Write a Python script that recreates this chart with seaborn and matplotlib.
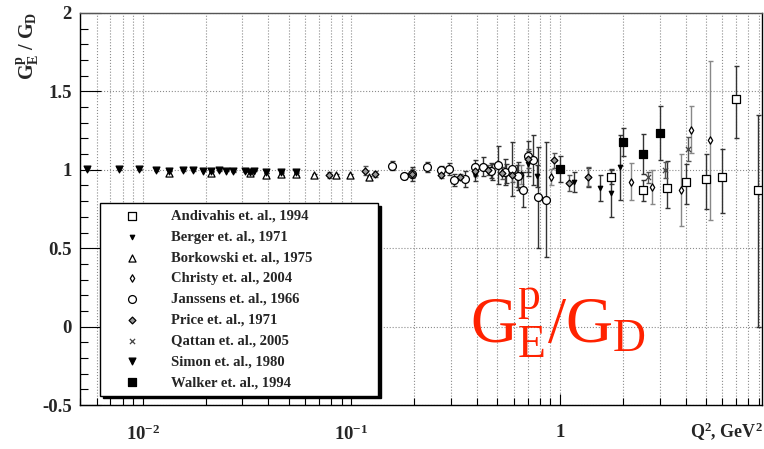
import numpy as np
import pandas as pd
import matplotlib
matplotlib.use("Agg")
import matplotlib.pyplot as plt
from matplotlib.ticker import LogLocator, MultipleLocator, NullFormatter
import seaborn as sns

# Data: Q^2 (GeV^2), GEp/GD and errors
q2_andivahis = [1.75, 2.5, 3.25, 4.0, 5.0, 6.0, 7.0, 8.85]
ge_andivahis = [0.957, 0.868, 0.887, 0.92, 0.943, 0.953, 1.45, 0.868]
errlo_andivahis = [0.05, 0.07, 0.13, 0.14, 0.19, 0.23, 0.25, 0.87]
errhi_andivahis = [0.05, 0.07, 0.17, 0.12, 0.16, 0.18, 0.21, 0.48]

q2_berger = [0.39, 0.47, 0.55, 0.62, 0.70, 0.78, 1.17, 1.36, 1.56, 1.76, 1.94]
ge_berger = [0.97, 0.985, 0.975, 0.96, 1.04, 0.96, 0.92, 0.95, 0.887, 0.85, 1.015]
err_berger = [0.04, 0.05, 0.06, 0.07, 0.08, 0.07, 0.064, 0.06, 0.083, 0.15, 0.21]

q2_borkowski = [0.0134, 0.0213, 0.0327, 0.0391, 0.0461, 0.0544, 0.0659, 0.0841, 0.0989, 0.122]
ge_borkowski = [0.98, 0.98, 0.98, 0.97, 0.975, 0.975, 0.965, 0.965, 0.965, 0.952]
err_borkowski = [0.01, 0.01, 0.01, 0.01, 0.01, 0.01, 0.01, 0.01, 0.01, 0.01]

q2_christy = [0.65, 0.91, 2.2, 2.77, 3.8, 4.24, 5.25]
ge_christy = [0.97, 0.953, 0.925, 0.89, 0.873, 1.255, 1.187]
err_christy = [0.06, 0.053, 0.12, 0.11, 0.23, 0.15, 0.51]

q2_janssens = [0.156, 0.179, 0.195, 0.231, 0.270, 0.294, 0.311, 0.350, 0.391, 0.428,
               0.466, 0.505, 0.545, 0.586, 0.627, 0.662, 0.705, 0.745, 0.782, 0.857]
ge_janssens = [1.027, 0.96, 0.975, 1.017, 0.996, 1.004, 0.936, 0.94, 1.015, 1.02,
               0.995, 1.03, 0.985, 1.005, 0.96, 0.873, 1.085, 1.06, 0.824, 0.81]
err_janssens = [0.03, 0.02, 0.045, 0.03, 0.03, 0.04, 0.04, 0.05, 0.05, 0.06,
                0.05, 0.12, 0.085, 0.17, 0.09, 0.11, 0.1, 0.16, 0.32, 0.365]

q2_price = [0.0778, 0.116, 0.130, 0.195, 0.27, 0.331, 0.391, 0.453, 0.525, 0.586, 0.70, 0.94, 1.105, 1.36]
ge_price = [0.968, 0.994, 0.973, 0.975, 0.968, 0.953, 0.99, 1.0, 0.98, 0.97, 1.07, 1.06, 0.915, 0.957]
err_price = [0.02, 0.03, 0.02, 0.03, 0.02, 0.02, 0.03, 0.03, 0.04, 0.05, 0.06, 0.05, 0.05, 0.06]

q2_qattan = [2.64, 3.2, 4.1]
ge_qattan = [0.953, 1.0, 1.13]
err_qattan = [0.035, 0.05, 0.077]

q2_simon = [0.0054, 0.0077, 0.0096, 0.0116, 0.0134, 0.0156, 0.0174, 0.0194, 0.0213,
            0.0231, 0.0251, 0.027, 0.031, 0.0327, 0.0343, 0.0391, 0.0461, 0.0544]
ge_simon = [1.005, 1.005, 1.003, 1.0, 0.995, 0.998, 0.997, 0.995, 0.99,
            0.997, 0.995, 0.99, 0.99, 0.988, 0.995, 0.985, 0.985, 0.985]
err_simon = [0.005] * len(q2_simon)

q2_walker = [1.0, 2.0, 2.5, 3.0]
ge_walker = [1.004, 1.176, 1.10, 1.234]
err_walker = [0.083, 0.09, 0.127, 0.17]

# label, x, y, yerr, marker, size, face, edge, bar colour
datasets = [
    ("Andivahis et. al., 1994", q2_andivahis, ge_andivahis, [errlo_andivahis, errhi_andivahis], "s", 30, "white", "black", "#333333"),
    ("Berger et. al., 1971", q2_berger, ge_berger, err_berger, "v", 10, "black", "black", "#333333"),
    ("Borkowski et. al., 1975", q2_borkowski, ge_borkowski, err_borkowski, "^", 26, "white", "black", "#333333"),
    ("Christy et. al., 2004", q2_christy, ge_christy, err_christy, "d", 14, "white", "black", "#888888"),
    ("Janssens et. al., 1966", q2_janssens, ge_janssens, err_janssens, "o", 32, "white", "black", "#333333"),
    ("Price et. al., 1971", q2_price, ge_price, err_price, "D", 12, "#999999", "black", "#555555"),
    ("Qattan et. al., 2005", q2_qattan, ge_qattan, err_qattan, "x", 14, "#444444", "#444444", "#555555"),
    ("Simon et. al., 1980", q2_simon, ge_simon, err_simon, "v", 24, "black", "black", "#333333"),
    ("Walker et. al., 1994", q2_walker, ge_walker, err_walker, "s", 30, "black", "black", "#333333"),
]

sns.set_theme(style="ticks")
plt.rcParams["font.family"] = ["Liberation Serif", "DejaVu Serif"]
plt.rcParams["mathtext.fontset"] = "custom"
plt.rcParams["mathtext.rm"] = "Liberation Serif:normal"
plt.rcParams["mathtext.it"] = "Liberation Serif:italic"
plt.rcParams["mathtext.bf"] = "Liberation Serif:bold"

fig = plt.figure(figsize=(7.64, 4.49), dpi=100)
ax = fig.add_axes([80 / 764, 1 - 405 / 449, 682 / 764, 392 / 449])

for label, x, y, yerr, mk, s, fc, ec, bc in datasets:
    ax.errorbar(x, y, yerr=yerr, fmt="none", ecolor=bc, elinewidth=1.0,
                capsize=1.8, capthick=1.0, zorder=2)
    df = pd.DataFrame({"q2": x, "ge": y})
    sns.scatterplot(data=df, x="q2", y="ge", marker=mk, s=s, facecolor=fc,
                    edgecolor=ec, linewidth=0.9, label=label, ax=ax, zorder=3)

ax.set_xscale("log")
ax.set_xlim(0.005, 9.3)
ax.set_ylim(-0.5, 2.0)

ax.set_xticks([0.01, 0.1, 1], labels=[r"$\mathbf{10^{-2}}$", r"$\mathbf{10^{-1}}$", "1"])
ax.xaxis.set_minor_locator(LogLocator(base=10, subs=np.arange(2, 10)))
ax.xaxis.set_minor_formatter(NullFormatter())
ax.set_yticks([-0.5, 0, 0.5, 1, 1.5, 2], labels=["-0.5", "0", "0.5", "1", "1.5", "2"])
ax.yaxis.set_minor_locator(MultipleLocator(0.1))

ax.tick_params(axis="both", which="both", direction="in", labelsize=13.5, color="black",
               top=False, right=False)
ax.tick_params(axis="x", which="major", length=8, width=0.8, pad=14)
ax.tick_params(axis="x", which="minor", length=5, width=0.8)
ax.tick_params(axis="y", which="major", length=15, width=0.8, pad=6)
ax.tick_params(axis="y", which="minor", length=6, width=0.8)
for lab in ax.get_xticklabels() + ax.get_yticklabels():
    lab.set_fontweight("bold")

ax.grid(axis="x", which="both", ls=":", color="#8c8c8c", lw=0.8)
ax.grid(axis="y", which="major", ls=":", color="#8c8c8c", lw=0.8)
for sp in ax.spines.values():
    sp.set_color("black")
    sp.set_linewidth(1.0)
ax.spines["top"].set_color("#555555")

ax.set_xlabel("")
ax.set_ylabel("")
fig.text(0.036, 1 - 12 / 449, r"$\mathbf{G_E^p\ /\ G_D}$", rotation=90,
         ha="center", va="top", fontsize=14.5)
fig.text(0.998, 1 - 438 / 449, r"$\mathbf{Q^2}$, GeV$\mathbf{^2}$", ha="right",
         va="baseline", fontsize=13, fontweight="bold")

fig.text(470 / 764, 1 - 343 / 449, r"$\mathrm{G_E^p/G_D}$", color="#ff2200",
         fontsize=47, ha="left", va="baseline")

leg = ax.legend(loc="upper left", bbox_to_anchor=(100 / 764, 1 - 203 / 449 - 0.1, 278 / 764, 0.1),
                bbox_transform=fig.transFigure, mode="expand", borderaxespad=0,
                frameon=True, fancybox=False, framealpha=1, edgecolor="black",
                shadow={"color": "black", "alpha": 1},
                prop={"family": "Liberation Serif", "weight": "bold", "size": 10.5},
                handlelength=3.5, handletextpad=0.9, borderpad=0.45, labelspacing=0.52,
                scatterpoints=1)
leg.get_frame().set_linewidth(1.0)

fig.savefig("out.png", dpi=100)
